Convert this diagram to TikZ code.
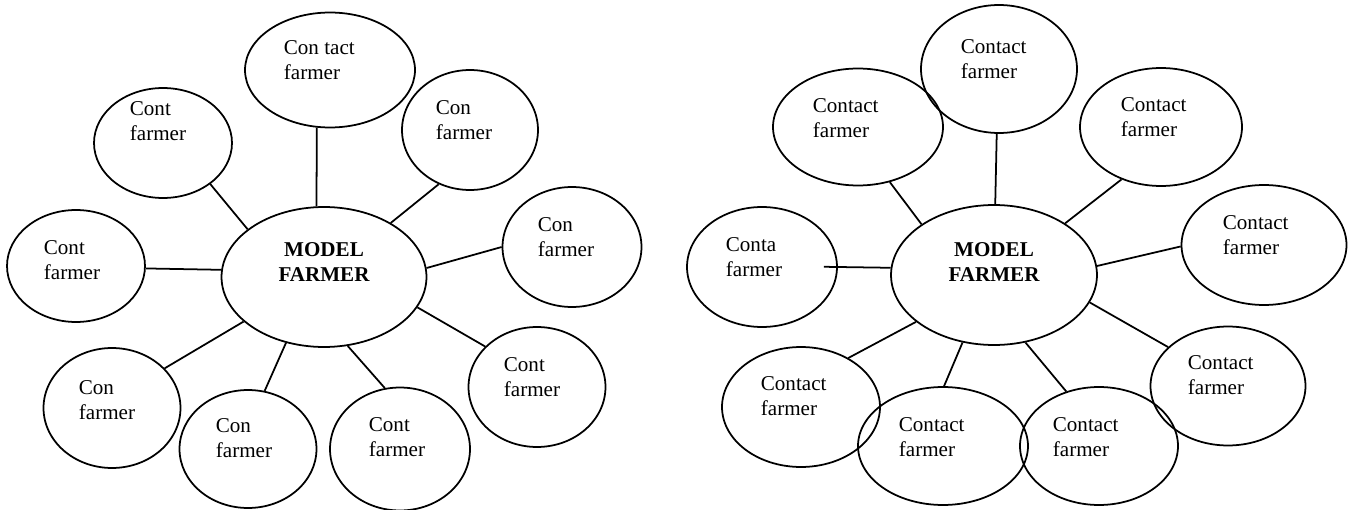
\documentclass[tikz,border=0pt]{standalone}
\usepackage{fontspec}
\setmainfont{Liberation Serif}
\usetikzlibrary{shapes.geometric}
\begin{document}
\begin{tikzpicture}[x=0.02cm, y=-0.02cm, line width=1pt,
          font=\fontsize{12}{14.2}\selectfont,
          farmer/.style 2 args={draw, ellipse, inner sep=0pt, minimum width=#1cm, minimum height=#2cm},
          model/.style={font=\fontsize{12}{14.2}\selectfont\bfseries, align=center},
          txt/.style={align=left, anchor=west, inner sep=0pt}]
        \useasboundingbox (0,0) rectangle (1353,510);
        % left diagram
        \node[farmer={4.1}{2.8}] (m1) at (324,277) {};
        \node[model] (m1t) at (324,262) {MODEL\\FARMER};
        \node[farmer={3.4}{2.3}] (lt) at (330,70) {};
        \node[farmer={2.76}{2.2}] (lul) at (163,143) {};
        \node[farmer={2.72}{2.4}] (lur) at (470,130) {};
        \node[farmer={2.78}{2.4}] (lrm) at (572,247) {};
        \node[farmer={2.76}{2.24}] (llm) at (76,266) {};
        \node[farmer={2.74}{2.4}] (lll) at (112,408) {};
        \node[farmer={2.74}{2.36}] (lbl) at (248,449) {};
        \node[farmer={2.8}{2.46}] (lbr) at (400,449) {};
        \node[farmer={2.74}{2.4}] (llr) at (537,387) {};
        \node[txt] (ltt) at (283,60) {Con tact\\farmer};
        \node[txt] (lult) at (129,121) {Cont\\farmer};
        \node[txt] (lurt) at (435,120) {Con\\farmer};
        \node[txt] (lrmt) at (537,237) {Con\\farmer};
        \node[txt] (llmt) at (43,260) {Cont\\farmer};
        \node[txt] (lllt) at (78,400) {Con\\farmer};
        \node[txt] (lblt) at (215,438) {Con\\farmer};
        \node[txt] (lbrt) at (368,437) {Cont\\farmer};
        \node[txt] (llrt) at (503,377) {Cont\\farmer};
        \draw (lt.-103) -- (m1.96);
        \draw (lul.-41) -- (m1.148);
        \draw (lur.-120) -- (m1.39);
        \draw (lrm.180) -- (m1.5);
        \draw (llm.-2) -- (m1.176);
        \draw (lll.37) -- (m1.209);
        \draw (lbl.74) -- (m1.240);
        \draw (lbr.104) -- (m1.-71);
        \draw (llr.142) -- (m1.-18);
        % right diagram
        \node[farmer={4.12}{2.8}] (m2) at (994,275) {};
        \node[model] (m2t) at (994,262) {MODEL\\FARMER};
        \node[farmer={3.12}{2.56}] (rt) at (999,69) {};
        \node[farmer={3.4}{2.34}] (rul) at (858,127) {};
        \node[farmer={3.24}{2.36}] (rur) at (1161,127) {};
        \node[farmer={3.3}{2.4}] (rrm) at (1264,245) {};
        \node[farmer={3.0}{2.4}] (rlm) at (762,267) {};
        \node[farmer={3.16}{2.4}] (rll) at (801,407) {};
        \node[farmer={3.4}{2.36}] (rbl) at (943,446) {};
        \node[farmer={3.16}{2.36}] (rbr) at (1099,446) {};
        \node[farmer={3.1}{2.38}] (rlr) at (1228,386) {};
        \node[txt] (rtt) at (960,59) {Contact\\farmer};
        \node[txt] (rult) at (812,118) {Contact\\farmer};
        \node[txt] (rurt) at (1120,117) {Contact\\farmer};
        \node[txt] (rrmt) at (1222,235) {Contact\\farmer};
        \node[txt] (rlmt) at (725,257) {Conta\\farmer};
        \node[txt] (rllt) at (760,396) {Contact\\farmer};
        \node[txt] (rblt) at (898,437) {Contact\\farmer};
        \node[txt] (rbrt) at (1052,437) {Contact\\farmer};
        \node[txt] (rlrt) at (1187,375) {Contact\\farmer};
        \draw (rt.-92) -- (m2.89);
        \draw (rul.-60) -- (m2.145);
        \draw (rur.-127) -- (m2.36);
        \draw (rrm.181) -- (m2.5);
        \draw[shorten <=-0.28cm] (rlm.0) -- (m2.176);
        \draw (rll.46) -- (m2.211);
        \draw (rbl.89) -- (m2.245);
        \draw (rbr.121) -- (m2.295);
        \draw (rlr.147) -- (m2.-16);
      \end{tikzpicture}
\end{document}
